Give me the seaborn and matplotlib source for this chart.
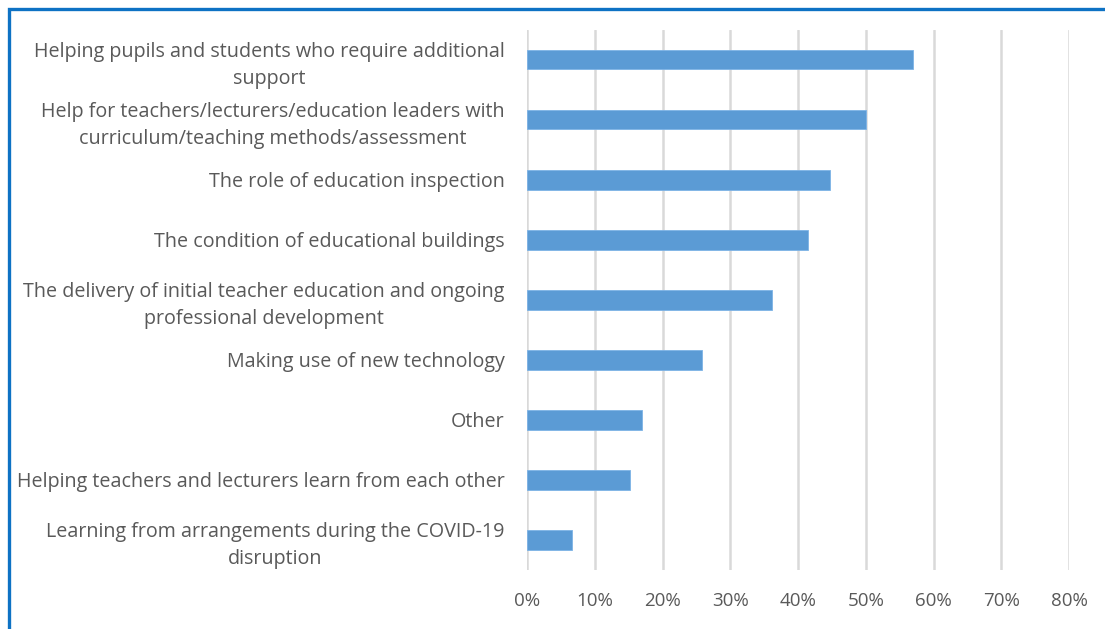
import matplotlib
matplotlib.use("Agg")
import matplotlib.pyplot as plt
from matplotlib.patches import Rectangle
from matplotlib.ticker import PercentFormatter
import seaborn as sns
import pandas as pd

# Survey responses: share of respondents choosing each area
categories = [
    "Helping pupils and students who require additional\nsupport",
    "Help for teachers/lecturers/education leaders with\ncurriculum/teaching methods/assessment",
    "The role of education inspection",
    "The condition of educational buildings",
    "The delivery of initial teacher education and ongoing\nprofessional development",
    "Making use of new technology",
    "Other",
    "Helping teachers and lecturers learn from each other",
    "Learning from arrangements during the COVID-19\ndisruption",
]
shares = [57.0, 50.0, 44.7, 41.5, 36.2, 25.8, 17.0, 15.2, 6.6]
x_ticks = [0, 10, 20, 30, 40, 50, 60, 70, 80]

df = pd.DataFrame({"area": categories, "share": shares})

sns.set_theme(style="white")
plt.rcParams["font.family"] = ["Open Sans", "DejaVu Sans"]

W, H = 1105, 629
fig = plt.figure(figsize=(W / 100, H / 100), dpi=100)
ax = fig.add_axes([527 / W, 1 - 570 / H, (1069 - 527) / W, (570 - 29.5) / H])

sns.barplot(data=df, x="share", y="area", orient="h", color="#5B9BD5",
            width=0.33, saturation=1, edgecolor="#7DB3E6", linewidth=0.6,
            ax=ax, zorder=3)

ax.set_xlim(0, 80)
ax.set_xticks(x_ticks)
ax.xaxis.set_major_formatter(PercentFormatter(decimals=0))
ax.grid(axis="x", color="#D9D9D9", linewidth=1.8, zorder=0)
ax.set_axisbelow(True)
for s in ax.spines.values():
    s.set_visible(False)
ax.set_xlabel("")
ax.set_ylabel("")
ax.tick_params(axis="x", length=0, pad=16, labelsize=13.5, labelcolor="#595959")
ax.tick_params(axis="y", length=0, pad=16, labelsize=14.2, labelcolor="#595959")
for lbl in ax.get_yticklabels():
    lbl.set_multialignment("center")
    lbl.set_linespacing(1.45)

# blue frame around the figure
frame = Rectangle((9 / W, -0.1), 1.2, 1 - 9 / H + 0.1, transform=fig.transFigure,
                  fill=False, edgecolor="#0E72C4", linewidth=2.4)
fig.patches.append(frame)

fig.savefig("out.png", dpi=100, facecolor="white")
